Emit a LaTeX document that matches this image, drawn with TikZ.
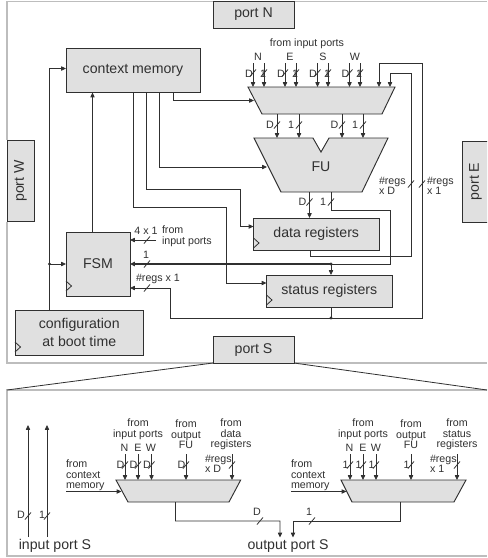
\documentclass[tikz,border=0pt]{standalone}
\usepackage{fontspec}
\setmainfont{Liberation Sans}
\usetikzlibrary{arrows.meta,calc}
\definecolor{boxfill}{HTML}{E0E0E0}
\definecolor{ink}{HTML}{303030}
\definecolor{framegray}{HTML}{BDBDBD}
\newcommand{\bx}[6]{\node[boxnode,minimum width={(#4-#2)*0.75pt},minimum height={(#5-#3)*0.75pt}] (#1) at ({(#2+#4)/2},{(#3+#5)/2}) {#6};}
\newcommand{\ghost}[5]{\node[ghostnode,minimum width={(#4-#2)*0.75pt},minimum height={(#5-#3)*0.75pt}] (#1) at ({(#2+#4)/2},{(#3+#5)/2}) {};}
\newcommand{\lbl}[4]{\node[small] (#1) at (#2,#3) {#4};}
\newcommand{\lbll}[4]{\node[small,anchor=west,align=left] (#1) at (#2,#3) {#4};}
\newcommand{\slsh}[2]{\draw[wire] (#1-3,#2+3.5) -- (#1+3,#2-3.5);}
\newcommand{\clk}[1]{\draw[wire] ($(#1)+(0,-5)$) -- ($(#1)+(5.5,0)$) -- ($(#1)+(0,5)$);}
\begin{document}
\begin{tikzpicture}[x=0.75pt,y=-0.75pt,
  wire/.style={draw=ink,line width=0.6pt},
  arr/.style={wire,-{Triangle[length=3.6pt,width=3.2pt]}},
  boxnode/.style={draw=ink,fill=boxfill,line width=0.7pt,inner sep=0pt,outer sep=0pt,text=ink,font=\fontsize{10.6}{13.5}\selectfont,align=center},
  ghostnode/.style={inner sep=0pt,outer sep=0pt},
  trap/.style={draw=ink,fill=boxfill,line width=0.7pt,line join=miter},
  small/.style={inner sep=0pt,outer sep=0pt,text=ink,font=\fontsize{8}{7.9}\selectfont,align=center},
  big/.style={inner sep=0pt,outer sep=0pt,text=ink,font=\fontsize{10.6}{14}\selectfont},
  frame/.style={draw=framegray,line width=0.8pt}]
\useasboundingbox (0,0) rectangle (487,558);
\clip (0,0) rectangle (487,558);
% frames
\draw[frame] (213,1.5) -- (7,1.5) -- (7,140);
\draw[frame] (294,1.5) -- (487,1.5);
\draw[frame] (7,222) -- (7,363) -- (213,363);
\draw[frame] (294,363) -- (487,363);
\draw[frame] (487,390) -- (7,390) -- (7,556) -- (487,556);
% ports
\bx{pn}{213}{1}{294}{28}{port N}
\bx{ps}{213}{336.5}{294}{363}{port S}
\node[boxnode,minimum width={81*0.75pt},minimum height={27*0.75pt},rotate=90] (pw) at (20.5,181) {port W};
\node[boxnode,minimum width={81*0.75pt},minimum height={27*0.75pt},rotate=90] (pe) at (475.5,181.5) {port E};
\draw[wire] (ps.south west) -- (7,390);
\draw[wire] (ps.south east) -- (487,390);
% boxes
\bx{ctx}{66}{48}{200}{92.5}{context memory}
\bx{cfg}{15}{310}{143.5}{355}{configuration\\at boot time}
\bx{fsm}{66}{232}{130}{296}{FSM}
\bx{dat}{253.5}{218}{379}{250.5}{data registers}
\bx{sta}{266.5}{275}{392}{307}{status registers}
% clocks
\clk{66,286}
\clk{15,347}
\clk{253.5,243}
\clk{266.5,300}
% trapezia
\ghost{mux}{248}{87}{395}{114}
\draw[trap] (mux.north west) -- (mux.north east) -- ($(mux.south east)+(-13,0)$) -- ($(mux.south west)+(14,0)$) -- cycle;
\ghost{fu}{254}{138}{388}{192}
\draw[trap] (fu.north west) -- (313,138) -- (321,152) -- (329,138) -- (fu.north east) -- ($(fu.south east)+(-26,0)$) -- ($(fu.south west)+(27,0)$) -- cycle;
\node[big] (fulab) at (321,167) {FU};
\ghost{ma}{116}{480}{240.7}{502}
\draw[trap] (ma.north west) -- (ma.north east) -- ($(ma.south east)+(-11.7,0)$) -- ($(ma.south west)+(12,0)$) -- cycle;
\ghost{mb}{341}{480}{466}{502}
\draw[trap] (mb.north west) -- (mb.north east) -- ($(mb.south east)+(-12,0)$) -- ($(mb.south west)+(11,0)$) -- cycle;
% free ends
\coordinate (in1) at (253,63);\coordinate (in2) at (264,63);
\coordinate (in3) at (285,63);\coordinate (in4) at (296,63);
\coordinate (in5) at (317.5,63);\coordinate (in6) at (328,63);
\coordinate (in7) at (349.5,63);\coordinate (in8) at (360,63);
% mux inputs
\foreach \p/\dx in {in1/5,in2/16,in3/37,in4/48,in5/69.5,in6/80,in7/101.5,in8/112}
  \draw[arr] (\p) -- ($(mux.north west)+(\dx,0)$);
\foreach \sx in {253,264,285,296,317.5,328,349.5,360} {\slsh{\sx}{73}}
\lbl{tin}{307}{44}{from input ports}
\lbl{n1}{258}{57}{N}\lbl{n2}{290}{57}{E}\lbl{n3}{323}{57}{S}\lbl{n4}{355}{57}{W}
\lbl{d1}{249}{73.5}{D}\lbl{o1}{263}{73.5}{1}
\lbl{d2}{281}{73.5}{D}\lbl{o2}{295}{73.5}{1}
\lbl{d3}{313}{73.5}{D}\lbl{o3}{327}{73.5}{1}
\lbl{d4}{345.5}{73.5}{D}\lbl{o4}{359}{73.5}{1}
% mux to FU
\foreach \a/\b in {29/23,51/45,94/88,115/109}
  \draw[arr] ($(mux.south west)+(\a,0)$) -- ($(fu.north west)+(\b,0)$);
\foreach \sx in {277,299,342,363} {\slsh{\sx}{125}}
\lbl{d5}{270}{124.5}{D}\lbl{o5}{291}{124.5}{1}
\lbl{d6}{334.5}{124.5}{D}\lbl{o6}{355}{124.5}{1}
% FU outputs
\draw[arr] ($(fu.south west)+(55.5,0)$) -- ($(dat.north west)+(56,0)$);
\slsh{309.5}{202}
\lbl{d7}{302.5}{201.5}{D}
\lbl{o7}{323}{201.5}{1}
\slsh{331}{202}
\draw[wire] ($(fu.south west)+(77,0)$) -- (331,210) -- (390,210) -- (390,264) -- (331,264);
\draw[arr,line width=0.9pt] (331,264) -- (fsm.east |- 0,264);
\draw[arr] (331,264) -- ($(sta.north west)+(64.5,0)$);
\fill[ink] (331,264) circle (1.6);
\slsh{147}{264}
\lbl{o8}{146}{255}{1}
% context memory outputs
\draw[arr] ($(ctx.south west)+(107,0)$) -- (173,100.5) -- ($(mux.north west)+(6,13.5)$);
\draw[arr] ($(ctx.south west)+(93.5,0)$) -- (159.5,167) -- ($(fu.north west)+(13,29)$);
\draw[arr] ($(ctx.south west)+(80,0)$) -- (146,189) -- (240,189) -- (240,226.5) -- (dat.west |- 0,226.5);
\draw[arr] ($(ctx.south west)+(67,0)$) -- (133,207.7) -- (226.7,207.7) -- (226.7,283) -- (sta.west |- 0,283);
% FSM and configuration
\draw[arr] ($(fsm.north west)+(26.5,0)$) -- ($(ctx.south west)+(26.5,0)$);
\draw[arr] ($(cfg.north west)+(34.5,0)$) -- (49.5,68.5) -- (ctx.west |- 0,68.5);
\fill[ink] (49.5,264) circle (1.6);
\draw[arr] (49.5,264) -- (fsm.west |- 0,264);
% feedback loops
\draw[arr] ($(sta.south west)+(64.5,0)$) -- (331,318) -- (422,318) -- (422,63.5) -- (379,63.5) -- ($(mux.north west)+(131,0)$);
\draw[arr] (331,318) -- (170,318) -- (170,288) -- (fsm.east |- 0,288);
\fill[ink] (331,318) circle (1.6);
\draw[arr] ($(dat.south west)+(56.5,0)$) -- (310,256) -- (411,256) -- (411,73) -- (390,73) -- ($(mux.north west)+(142,0)$);
\slsh{411}{184}\slsh{422}{184}
\lbll{rd}{379}{186}{\#regs\\x D}
\lbll{r1}{427}{186}{\#regs\\x 1}
\slsh{147}{288}
\lbl{rf}{158}{279}{\#regs x 1}
% FSM inputs
\coordinate (fi) at (156,240);
\draw[arr] (fi) -- (fsm.east |- fi);
\slsh{147}{240}
\lbl{f41}{146}{231}{4 x 1}
\lbll{ff}{162}{236}{from\\input ports}
% lower left
\coordinate (ia) at (28,537);\coordinate (ia2) at (28,425);
\coordinate (ib) at (47,537);\coordinate (ib2) at (47,425);
\draw[arr] (ia) -- (ia2);
\draw[arr] (ib) -- (ib2);
\slsh{28}{516}\slsh{47}{516}
\lbl{id}{21}{515}{D}\lbl{i1}{42}{515}{1}
\node[big] (ipl) at (55,546) {input port S};
% lower mux A
\foreach \nm/\xx in {ae/125,af/138,ag/151.5,ah/186,ai/232} {
  \coordinate (\nm) at (\xx,454);
  \draw[arr] (\nm) -- (\nm |- ma.north);
  \slsh{\xx}{465}}
\lbl{at}{138}{429}{from\\input ports}
\lbl{an}{124.5}{448}{N}\lbl{aee}{138}{448}{E}\lbl{aw}{151}{448}{W}
\lbl{afu}{186}{434.5}{from\\output\\FU}
\lbl{adr}{231}{434.5}{from\\data\\registers}
\lbll{arg}{205}{464}{\#regs\\x D}
\lbl{ad1}{120.5}{465}{D}\lbl{ad2}{133.5}{465}{D}\lbl{ad3}{147}{465}{D}\lbl{ad4}{181.5}{465}{D}
\lbll{acm}{66}{475.5}{from\\context\\memory}
\coordinate (ac) at (66,491.5);
\draw[arr] (ac) -- ($(ma.north west)+(5.5,11.5)$);
% lower mux B
\foreach \nm/\xx in {be/350,bf/363,bg/376,bh/411,bi/457} {
  \coordinate (\nm) at (\xx,454);
  \draw[arr] (\nm) -- (\nm |- mb.north);
  \slsh{\xx}{465}}
\lbl{bt}{363}{429}{from\\input ports}
\lbl{bn}{349.5}{448}{N}\lbl{bee}{363}{448}{E}\lbl{bw}{376}{448}{W}
\lbl{bfu}{411}{434.5}{from\\output\\FU}
\lbl{bdr}{457}{434.5}{from\\status\\registers}
\lbll{brg}{430}{464}{\#regs\\x 1}
\lbl{bd1}{345.5}{465}{1}\lbl{bd2}{358.5}{465}{1}\lbl{bd3}{371.5}{465}{1}\lbl{bd4}{406.5}{465}{1}
\lbll{bcm}{291}{475.5}{from\\context\\memory}
\coordinate (bc) at (291,491.5);
\draw[arr] (bc) -- ($(mb.north west)+(5.5,11.5)$);
% outputs
\coordinate (oa) at (280,537.5);\coordinate (ob) at (293,537.5);
\draw[arr] ($(ma.south west)+(59.5,0)$) -- (175.5,521) -- (280,521) -- (oa);
\draw[arr] ($(mb.south west)+(59.7,0)$) -- (400.7,521) -- (293,521) -- (ob);
\slsh{260}{521}\slsh{312}{521}
\lbl{od}{257}{512}{D}\lbl{o1b}{309}{512}{1}
\node[big] (opl) at (288,546) {output port S};
\end{tikzpicture}
\end{document}
